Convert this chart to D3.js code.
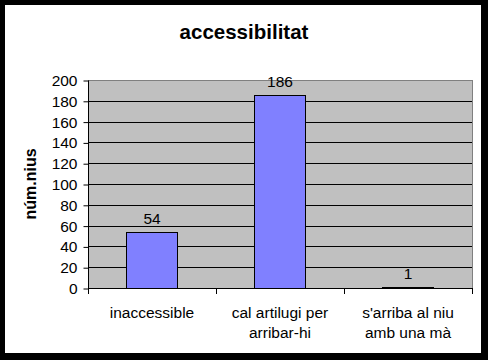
<!DOCTYPE html>
<html>
<head>
<meta charset="utf-8">
<script src="https://cdn.jsdelivr.net/npm/d3@7"></script>
<style>
  body { margin: 0; background: #000; }
  svg { display: block; font-family: "Liberation Sans", Arial, sans-serif; }
</style>
</head>
<body>
<div id="chart"></div>
<script>
// chart data
var categories = ['inaccessible', 'cal artilugi per|arribar-hi', "s'arriba al niu|amb una mà"];
var values = [54, 186, 1];
var yTicks = [0, 20, 40, 60, 80, 100, 120, 140, 160, 180, 200];

var W = 488, H = 360;
var plot = { left: 88, top: 80, right: 472, bottom: 288 };

var svg = d3.select('#chart')
  .append('svg')
  .attr('width', W).attr('height', H);

// black frame + white chart area
svg.append('rect')
  .attr('width', W).attr('height', H)
  .attr('fill', '#000');
svg.append('rect')
  .attr('x', 5).attr('y', 5)
  .attr('width', 476).attr('height', 348)
  .attr('fill', '#fff');

var x = d3.scaleBand()
  .domain(categories)
  .range([plot.left, plot.right])
  .paddingInner(0.6)
  .paddingOuter(0.3);

var y = d3.scaleLinear()
  .domain([0, 200])
  .range([plot.bottom, plot.top]);

// plot background
svg.append('rect')
  .attr('x', plot.left + 0.5).attr('y', plot.top + 0.5)
  .attr('width', plot.right - plot.left)
  .attr('height', plot.bottom - plot.top)
  .attr('fill', '#c0c0c0')
  .attr('stroke', '#808080')
  .attr('stroke-width', 1);

// gridlines
svg.append('g')
  .selectAll('line')
  .data(yTicks.filter(function(d) { return d > 0 && d < 200; }))
  .enter().append('line')
  .attr('x1', plot.left).attr('x2', plot.right)
  .attr('y1', function(d) { return Math.round(y(d)) + 0.5; })
  .attr('y2', function(d) { return Math.round(y(d)) + 0.5; })
  .attr('stroke', '#000')
  .attr('stroke-width', 1);

// bars
svg.append('g')
  .selectAll('rect')
  .data(values)
  .enter().append('rect')
  .attr('x', function(d, i) { return Math.round(x(categories[i])) + 0.5; })
  .attr('y', function(d) { return Math.round(y(d)) + 0.5; })
  .attr('width', Math.round(x.bandwidth()))
  .attr('height', function(d) { return Math.max(0, Math.round(y(0)) - Math.round(y(d))); })
  .attr('fill', '#8080ff')
  .attr('stroke', '#000')
  .attr('stroke-width', 1);

// value labels
svg.append('g')
  .selectAll('text')
  .data(values)
  .enter().append('text')
  .attr('x', function(d, i) { return x(categories[i]) + x.bandwidth() / 2; })
  .attr('y', function(d) { return y(d) - 8; })
  .attr('text-anchor', 'middle')
  .attr('font-size', 15.5)
  .attr('fill', '#000')
  .text(function(d) { return d; });

// y axis
var yAxis = svg.append('g')
  .attr('transform', 'translate(' + (plot.left + 0.5) + ',0.5)')
  .call(d3.axisLeft(y).tickValues(yTicks).tickSize(5).tickPadding(6));
yAxis.selectAll('path, line').attr('stroke', '#000');
yAxis.select('.domain').attr('d', 'M0,' + plot.top + 'V' + plot.bottom);
yAxis.selectAll('text')
  .attr('font-size', 15.5)
  .attr('font-family', '"Liberation Sans", Arial, sans-serif')
  .attr('fill', '#000');

// x axis
var xTickPos = [plot.left, plot.left + 128, plot.left + 256, plot.right];
var xAxis = svg.append('g');
xAxis.append('line')
  .attr('x1', plot.left).attr('x2', plot.right)
  .attr('y1', plot.bottom + 0.5).attr('y2', plot.bottom + 0.5)
  .attr('stroke', '#000');
xAxis.selectAll('.tick')
  .data(xTickPos)
  .enter().append('line')
  .attr('x1', function(d) { return d + 0.5; })
  .attr('x2', function(d) { return d + 0.5; })
  .attr('y1', plot.bottom).attr('y2', plot.bottom + 6)
  .attr('stroke', '#000');

var catLabels = xAxis.selectAll('text.cat')
  .data(categories)
  .enter().append('text')
  .attr('class', 'cat')
  .attr('text-anchor', 'middle')
  .attr('font-size', 15.5)
  .attr('fill', '#000')
  .attr('x', function(d) { return x(d) + x.bandwidth() / 2; })
  .attr('y', 318);
catLabels.each(function(d) {
  var t = d3.select(this);
  d.split('|').forEach(function(line, i) {
    t.append('tspan')
      .attr('x', t.attr('x'))
      .attr('dy', i === 0 ? 0 : 20)
      .text(line);
  });
});

// y axis title
svg.append('text')
  .attr('transform', 'translate(36,' + ((plot.top + plot.bottom) / 2) + ') rotate(-90)')
  .attr('text-anchor', 'middle')
  .attr('font-size', 16)
  .attr('font-weight', 'bold')
  .attr('fill', '#000')
  .text('núm.nius');

// title
svg.append('text')
  .attr('x', 244).attr('y', 39)
  .attr('text-anchor', 'middle')
  .attr('font-size', 20.5)
  .attr('font-weight', 'bold')
  .attr('fill', '#000')
  .text('accessibilitat');
</script>
</body>
</html>
